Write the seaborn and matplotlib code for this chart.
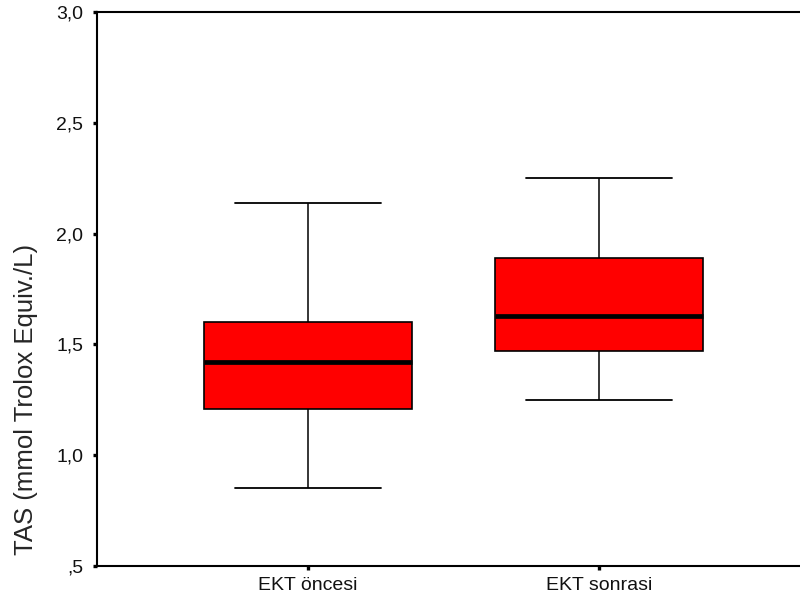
import matplotlib
matplotlib.use("Agg")
import matplotlib.pyplot as plt
from matplotlib.ticker import FuncFormatter, FixedLocator
import numpy as np
import pandas as pd
import seaborn as sns

# Five-number summaries per group (TAS, mmol Trolox Equiv./L)
categories = ["EKT öncesi", "EKT sonrasi"]
minimums = [0.85, 1.25]
lower_quartiles = [1.21, 1.47]
medians = [1.42, 1.63]
upper_quartiles = [1.60, 1.89]
maximums = [2.14, 2.25]
y_ticks = [0.5, 1.0, 1.5, 2.0, 2.5, 3.0]
y_label = "TAS (mmol Trolox Equiv./L)"

# Five points per group reproduce the summary exactly (linear percentiles)
rows = []
for i, cat in enumerate(categories):
    for v in (minimums[i], lower_quartiles[i], medians[i], upper_quartiles[i], maximums[i]):
        rows.append({"grup": cat, "TAS": v})
df = pd.DataFrame(rows)

sns.set_style("ticks")
plt.rcParams["font.family"] = ["Liberation Sans", "DejaVu Sans"]

fig = plt.figure(figsize=(8.0, 6.03), dpi=100)
ax = fig.add_axes([0.12125, 0.0614, 0.87875, 0.9187])

box_width = 0.715
ax = sns.boxplot(
    data=df, x="grup", y="TAS", order=categories, ax=ax,
    color="#ff0000", saturation=1, width=box_width, whis=(0, 100),
    linecolor="black", linewidth=1.2, fliersize=0,
    medianprops={"linewidth": 3.4, "color": "black", "solid_capstyle": "butt"},
    whiskerprops={"linewidth": 1.1},
    capprops={"linewidth": 1.3},
)

# Narrow the whisker caps to ~70% of the box width
cap_ratio = 0.70
for cont in ax.containers:
    caps = getattr(cont, "caps", None)
    if caps is None:
        continue
    for cap in caps:
        xd = np.asarray(cap.get_xdata(), dtype=float)
        c = xd.mean()
        half = box_width * cap_ratio / 2
        cap.set_xdata([c - half, c + half])

ax.set_xlim(-0.725, 1.69)
ax.set_ylim(0.5, 3.0)
ax.yaxis.set_major_locator(FixedLocator(y_ticks))


def comma_fmt(v, pos):
    s = f"{v:.1f}".replace(".", ",")
    if s.startswith("0"):
        s = s[1:]
    return s


ax.yaxis.set_major_formatter(FuncFormatter(comma_fmt))

ax.set_xlabel("")
ax.set_ylabel(y_label, fontsize=18.5)
ax.yaxis.set_label_coords(-0.084, 0.30)

for side in ("left", "bottom", "top"):
    ax.spines[side].set_visible(True)
    ax.spines[side].set_linewidth(1.5)
    ax.spines[side].set_color("black")
ax.spines["right"].set_visible(False)

ax.tick_params(axis="both", direction="out", length=3, width=2.4, color="black",
               labelsize=14, labelcolor="#111111")
ax.tick_params(axis="y", pad=7)
ax.tick_params(axis="x", pad=5)
ax.grid(False)

fig.savefig("out.png", dpi=100, facecolor="white")
